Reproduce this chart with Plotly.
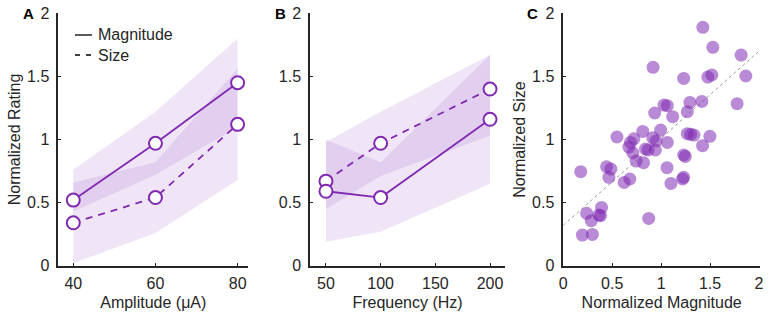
import plotly.graph_objects as go

W, H = 768, 317

# ---------------- data ----------------
amp = [40, 60, 80]
amp_mag = [0.52, 0.97, 1.45]
amp_size = [0.34, 0.54, 1.12]
amp_mag_lo = [0.43, 0.72, 1.10]
amp_mag_hi = [0.76, 1.22, 1.80]
amp_size_lo = [0.02, 0.26, 0.68]
amp_size_hi = [0.66, 0.82, 1.56]

freq = [50, 100, 200]
freq_mag = [0.59, 0.54, 1.16]
freq_size = [0.67, 0.97, 1.40]
freq_mag_lo = [0.19, 0.27, 0.65]
freq_mag_hi = [1.00, 0.82, 1.67]
freq_size_lo = [0.45, 0.71, 1.03]
freq_size_hi = [0.98, 1.22, 1.67]

scat_mag = [1.426, 1.528, 1.817, 0.917, 1.230, 1.477, 1.518, 1.865, 1.029, 1.063,
            0.934, 1.118, 1.294, 1.267, 1.416, 1.776, 0.548, 0.812, 0.995, 0.721,
            0.687, 0.670, 0.711, 0.914, 0.948, 1.063, 0.840, 0.867, 0.941, 0.745,
            0.820, 1.267, 1.301, 1.335, 1.498, 1.423, 1.230, 1.247, 1.060, 1.100,
            1.219, 1.230, 0.178, 0.442, 0.486, 0.466, 0.622, 0.680, 0.873, 0.391,
            0.239, 0.364, 0.381, 0.286, 0.195, 0.297]
scat_size = [1.889, 1.730, 1.669, 1.572, 1.484, 1.495, 1.511, 1.503, 1.273, 1.268,
             1.210, 1.181, 1.294, 1.220, 1.302, 1.284, 1.020, 1.064, 1.075, 1.006,
             0.977, 0.940, 0.893, 1.014, 0.988, 0.977, 0.924, 0.917, 0.917, 0.829,
             0.816, 1.046, 1.041, 1.035, 1.025, 0.951, 0.877, 0.866, 0.777, 0.652,
             0.687, 0.700, 0.745, 0.784, 0.766, 0.700, 0.660, 0.687, 0.375, 0.462,
             0.415, 0.401, 0.396, 0.357, 0.243, 0.248]
fit_x = [0.0, 2.0]
fit_y = [0.32, 1.70]

y_ticks = [0, 0.5, 1, 1.5, 2]
y_ticklabels = ["0", "0.5", "1", "1.5", "2"]
amp_ticks = [40, 60, 80]
freq_ticks = [50, 100, 150, 200]
mag_ticks = [0, 0.5, 1, 1.5, 2]
mag_ticklabels = ["0", "0.5", "1", "1.5", "2"]

# ---------------- style ----------------
PURPLE = "rgb(128,42,178)"
BAND = "rgba(128,42,178,0.12)"
DOT = "rgba(128,42,178,0.55)"
AX = "#262626"
FONT = "Liberation Sans, Arial, sans-serif"
DASH = "7px,6px"

fig = go.Figure()


def band(x, lo, hi, xa, ya):
    fig.add_trace(go.Scatter(x=list(x) + list(x)[::-1], y=list(hi) + list(lo)[::-1],
                             fill="toself", fillcolor=BAND, line=dict(width=0),
                             mode="lines", hoverinfo="skip", showlegend=False,
                             xaxis=xa, yaxis=ya))


def series(x, y, dash, xa, ya):
    fig.add_trace(go.Scatter(x=x, y=y, mode="lines+markers",
                             line=dict(color=PURPLE, width=1.8, dash=dash),
                             marker=dict(size=13, color="white",
                                         line=dict(color=PURPLE, width=2)),
                             showlegend=False, xaxis=xa, yaxis=ya))


band(amp, amp_size_lo, amp_size_hi, "x", "y")
band(amp, amp_mag_lo, amp_mag_hi, "x", "y")
series(amp, amp_size, DASH, "x", "y")
series(amp, amp_mag, "solid", "x", "y")

band(freq, freq_size_lo, freq_size_hi, "x2", "y2")
band(freq, freq_mag_lo, freq_mag_hi, "x2", "y2")
series(freq, freq_size, DASH, "x2", "y2")
series(freq, freq_mag, "solid", "x2", "y2")

fig.add_trace(go.Scatter(x=fit_x, y=fit_y, mode="lines",
                         line=dict(color="#9a9a9a", width=1, dash="3px,3px"),
                         showlegend=False, xaxis="x3", yaxis="y3"))
fig.add_trace(go.Scatter(x=scat_mag, y=scat_size, mode="markers",
                         marker=dict(size=13, color=DOT, line=dict(width=0)),
                         showlegend=False, xaxis="x3", yaxis="y3"))


def px(x):
    return x / W


def py(y):
    return 1 - y / H


ydom = [py(265.7), py(13.3)]
common = dict(showline=True, linecolor=AX, linewidth=1.5, ticks="inside",
              ticklen=3, tickwidth=1, tickcolor=AX, showgrid=False, zeroline=False,
              tickfont=dict(family=FONT, size=16, color=AX), automargin=False)
xcommon = dict(ticklabelstandoff=2, **common)
ycommon = dict(ticklabelstandoff=4, **common)
title_font = dict(family=FONT, size=16, color=AX)

fig.update_layout(
    width=W, height=H, margin=dict(l=0, r=0, t=0, b=0),
    paper_bgcolor="white", plot_bgcolor="white",
    font=dict(family=FONT, size=16, color=AX),
    xaxis=dict(domain=[px(58.3), px(248.3)], range=[36.35, 82.6], tickvals=amp_ticks,
               title=dict(text="Amplitude (μA)", font=title_font, standoff=6),
               anchor="y", **xcommon),
    yaxis=dict(domain=ydom, range=[0, 2], tickvals=y_ticks, ticktext=y_ticklabels,
               title=dict(text="Normalized Rating", font=title_font, standoff=2),
               anchor="x", **ycommon),
    xaxis2=dict(domain=[px(310), px(505)], range=[35.4, 213.7], tickvals=freq_ticks,
                title=dict(text="Frequency (Hz)", font=title_font, standoff=6),
                anchor="y2", **xcommon),
    yaxis2=dict(domain=ydom, range=[0, 2], tickvals=y_ticks, ticktext=y_ticklabels,
                anchor="x2", **ycommon),
    xaxis3=dict(domain=[px(563.3), px(760)], range=[0, 2.01], tickvals=mag_ticks,
                ticktext=mag_ticklabels,
                title=dict(text="Normalized Magnitude", font=title_font, standoff=6),
                anchor="y3", **xcommon),
    yaxis3=dict(domain=ydom, range=[0, 2], tickvals=y_ticks, ticktext=y_ticklabels,
                title=dict(text="Normalized Size", font=title_font, standoff=2),
                anchor="x3", **ycommon),
)

# panel letters
for letter, xpx in [("A", 28), ("B", 280), ("C", 532)]:
    fig.add_annotation(x=px(xpx), y=py(13.5), xref="paper", yref="paper",
                       text="<b>%s</b>" % letter, showarrow=False,
                       font=dict(family=FONT, size=15, color="black"),
                       xanchor="center", yanchor="middle")

# legend (panel A)
fig.add_shape(type="line", xref="paper", yref="paper", x0=px(75), x1=px(92),
              y0=py(35), y1=py(35), line=dict(color="black", width=1.3))
fig.add_shape(type="line", xref="paper", yref="paper", x0=px(75), x1=px(92),
              y0=py(55), y1=py(55), line=dict(color="black", width=1.3, dash="5px,6px"))
fig.add_annotation(x=px(96), y=py(35), xref="paper", yref="paper", text="Magnitude",
                   showarrow=False, xanchor="left", yanchor="middle",
                   font=dict(family=FONT, size=16, color=AX))
fig.add_annotation(x=px(96), y=py(55), xref="paper", yref="paper", text="Size",
                   showarrow=False, xanchor="left", yanchor="middle",
                   font=dict(family=FONT, size=16, color=AX))

fig.write_html("out.html",
               config={"displayModeBar": False},
               post_script="document.body.style.margin='0px';"
                           "document.body.style.overflow='hidden';")
